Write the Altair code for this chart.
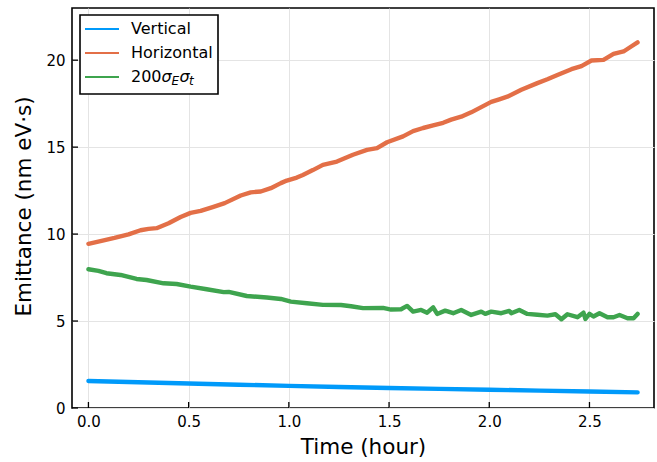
import altair as alt
import pandas as pd

# ---------------- data ----------------
series_names = ["Vertical", "Horizontal", "200σEσt"]
colors = ["#009AFA", "#E36F47", "#3EA44E"]

time_v = [0.0, 0.25, 0.5, 0.75, 1.0, 1.25, 1.5, 1.75, 2.0, 2.25, 2.5, 2.74]
vert = [1.55, 1.48, 1.41, 1.34, 1.27, 1.21, 1.15, 1.10, 1.05, 1.00, 0.95, 0.90]

time_h = [0.00, 0.06, 0.13, 0.20, 0.26, 0.30, 0.34, 0.40, 0.46, 0.51, 0.56, 0.62,
          0.68, 0.76, 0.81, 0.86, 0.91, 0.96, 0.99, 1.04, 1.07, 1.12, 1.17, 1.24,
          1.32, 1.39, 1.44, 1.49, 1.57, 1.62, 1.67, 1.72, 1.77, 1.81, 1.86, 1.91,
          1.96, 2.01, 2.05, 2.09, 2.16, 2.24, 2.29, 2.34, 2.41, 2.46, 2.51, 2.57,
          2.62, 2.67, 2.71, 2.74]
horiz = [9.44, 9.60, 9.78, 9.98, 10.22, 10.30, 10.34, 10.62, 10.98, 11.22, 11.33, 11.55,
         11.78, 12.22, 12.40, 12.45, 12.64, 12.93, 13.08, 13.25, 13.40, 13.68, 13.98, 14.17,
         14.56, 14.84, 14.94, 15.28, 15.62, 15.92, 16.10, 16.25, 16.40, 16.58, 16.75, 17.00,
         17.30, 17.60, 17.75, 17.90, 18.30, 18.68, 18.90, 19.15, 19.48, 19.66, 19.98, 20.02,
         20.36, 20.50, 20.80, 21.02]

time_g = [0.00, 0.05, 0.09, 0.16, 0.24, 0.29, 0.375, 0.44, 0.51, 0.59, 0.675, 0.70,
          0.79, 0.89, 0.96, 1.01, 1.09, 1.17, 1.26, 1.31, 1.37, 1.47, 1.51, 1.56,
          1.59, 1.62, 1.66, 1.69, 1.72, 1.74, 1.78, 1.82, 1.86, 1.91, 1.96, 1.98,
          2.01, 2.06, 2.10, 2.11, 2.15, 2.19, 2.24, 2.29, 2.33, 2.36, 2.39, 2.44,
          2.47, 2.48, 2.50, 2.52, 2.55, 2.59, 2.62, 2.65, 2.69, 2.72, 2.74]
green = [7.98, 7.88, 7.75, 7.65, 7.42, 7.36, 7.17, 7.13, 6.98, 6.83, 6.66, 6.68,
         6.44, 6.35, 6.27, 6.12, 6.02, 5.93, 5.92, 5.85, 5.74, 5.76, 5.66, 5.68,
         5.87, 5.54, 5.64, 5.48, 5.79, 5.41, 5.60, 5.45, 5.64, 5.35, 5.54, 5.41,
         5.54, 5.45, 5.58, 5.45, 5.64, 5.41, 5.36, 5.31, 5.39, 5.10, 5.39, 5.22,
         5.48, 5.12, 5.41, 5.26, 5.45, 5.22, 5.22, 5.35, 5.16, 5.16, 5.41]

x_ticks = [0.0, 0.5, 1.0, 1.5, 2.0, 2.5]
y_ticks = [0, 5, 10, 15, 20]
x_domain = [-0.082, 2.822]
y_domain = [0, 23]

x_title = "Time (hour)"
y_title = "Emittance (nm eV·s)"

# ---------------- build table ----------------
rows = []
for name, ts, vs in [(series_names[0], time_v, vert),
                     (series_names[1], time_h, horiz),
                     (series_names[2], time_g, green)]:
    for t, v in zip(ts, vs):
        rows.append({"t": t, "v": v, "s": name})
df = pd.DataFrame(rows)

FONT = "DejaVu Sans"
W, H = 582, 400

xs = alt.Scale(domain=x_domain, nice=False, zero=False)
ys = alt.Scale(domain=y_domain, nice=False, zero=False)

x_axis = alt.Axis(
    values=x_ticks, format=".1f", title=x_title, grid=True, gridColor="#e4e4e4",
    gridWidth=1, domain=False, ticks=False, labelFont=FONT, labelFontSize=15,
    labelColor="black", labelPadding=6, titleFont=FONT, titleFontSize=21.5,
    titleFontWeight="normal", titleColor="black", titleY=39, titleBaseline="middle")
y_axis = alt.Axis(
    values=y_ticks, format="d", title=y_title, grid=True, gridColor="#e4e4e4",
    gridWidth=1, domain=False, ticks=False, labelFont=FONT, labelFontSize=15,
    labelColor="black", labelPadding=7, titleFont=FONT, titleFontSize=21.5,
    titleFontWeight="normal", titleColor="black", titleX=-48, titleY=H / 2 - 2,
    titleAngle=270, titleAlign="center", titleBaseline="middle")

lines = alt.Chart(df).mark_line(strokeWidth=4.4, strokeJoin="round", strokeCap="round").encode(
    x=alt.X("t:Q", scale=xs, axis=x_axis),
    y=alt.Y("v:Q", scale=ys, axis=y_axis),
    color=alt.Color("s:N", scale=alt.Scale(domain=series_names, range=colors), legend=None),
)

xt = alt.Chart(pd.DataFrame({"t": x_ticks})).mark_rule(color="black", strokeWidth=1.3).encode(
    x=alt.X("t:Q", scale=xs, axis=x_axis), y=alt.value(H), y2=alt.value(H - 6))
yt = alt.Chart(pd.DataFrame({"v": y_ticks})).mark_rule(color="black", strokeWidth=1.3).encode(
    y=alt.Y("v:Q", scale=ys, axis=y_axis), x=alt.value(0), x2=alt.value(6))

one = pd.DataFrame({"a": [0]})
layers = [lines, xt, yt]

layers.append(alt.Chart(one).mark_rect(fill="white", stroke="black", strokeWidth=1.6).encode(
    x=alt.value(8), x2=alt.value(146), y=alt.value(7), y2=alt.value(86)))

for i, (name, col) in enumerate(zip(series_names, colors)):
    yy = 21 + 24 * i
    layers.append(alt.Chart(one).mark_rule(color=col, strokeWidth=2).encode(
        x=alt.value(13), x2=alt.value(47), y=alt.value(yy)))

def txt(s, x, y, size=16, style="normal"):
    return alt.Chart(one).mark_text(align="left", baseline="middle", font=FONT,
                                    fontSize=size, fontStyle=style, color="black").encode(
        x=alt.value(x), y=alt.value(y), text=alt.value(s))

layers.append(txt("Vertical", 59, 21))
layers.append(txt("Horizontal", 59, 45))
layers.append(txt("200", 59, 69))
layers.append(txt("σ", 89.5, 69, style="italic"))
layers.append(txt("E", 99.5, 72.5, size=12, style="italic"))
layers.append(txt("σ", 107.5, 69, style="italic"))
layers.append(txt("t", 117, 72.5, size=12, style="italic"))

chart = alt.layer(*layers).properties(
    width=W, height=H,
    padding={"left": 72, "top": 8, "right": 3, "bottom": 54},
    autosize=alt.AutoSizeParams(type="none"),
    background="white",
).configure_view(stroke="black", strokeWidth=1.6).configure_axis(labelOverlap=False)

chart.save("out.html", embed_options={"renderer": "svg", "actions": False})
